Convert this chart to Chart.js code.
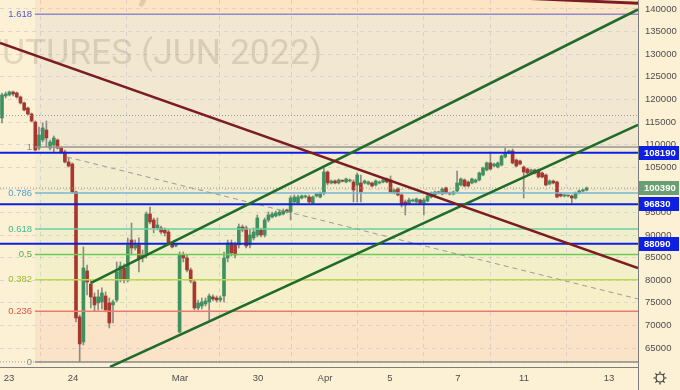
<!DOCTYPE html>
<html>
<head>
<meta charset="utf-8">
<script src="https://cdn.jsdelivr.net/npm/chart.js@4.4.1/dist/chart.umd.min.js"></script>
<style>
  html, body { margin: 0; padding: 0; background: #fdf1d5; }
  #wrap { width: 680px; height: 390px; position: relative; }
</style>
</head>
<body>
<div id="wrap"><canvas id="chart" width="680" height="390"></canvas></div>
<script>
// candles (4h-ish bars)
const opens = [115890,120760,120980,121640,121420,120530,119210,118100,116770,115000,109250,111020,113230,109250,109920,111020,109250,108370,106160,105710,
  99520,71870,66340,82050,79170,76300,74970,75190,76520,74970,74530,75630,80060,82710,80060,88900,87130,87800,85590,85590,
  94650,93330,91560,91560,91120,90670,88020,87580,68550,85590,84920,82270,79610,73860,74300,74750,75190,76300,76070,75630,
  76520,84920,88240,87800,87800,91780,91560,87800,89350,90010,91120,90010,93330,93990,94210,94430,94650,95540,95100,97310,
  97090,98190,98410,98410,97090,98640,98410,99300,103940,101510,101950,101510,101950,101730,101950,101730,101070,101510,101510,101290,
  101510,101070,101510,101730,102400,102180,99300,100180,98860,97310,96870,97530,97310,97750,97090,97530,98410,98860,99520,99080,
  100410,99300,99080,99740,101070,102180,101730,101510,101730,102180,103280,104390,105940,105270,105050,105490,107260,108150,108590,106600,
  106380,105050,104610,103720,104390,104390,103720,103280,101290,101950,101730,99080,98640,98640,98640,98190,99300,99740,99960];
const highs = [121420,121640,121860,121860,121640,120760,119430,118320,117000,115230,113900,114780,115230,111020,111910,111240,109470,108810,107040,105940,
  99740,72310,87350,83370,80060,77180,77840,78290,77400,76070,75630,84040,84040,83600,89350,92660,88900,89350,86690,95100,
  96200,93770,93770,92000,91560,91120,88460,88020,86250,86250,85590,82710,80060,75630,76070,76070,76960,76740,76520,76520,
  86250,88900,88900,88460,92440,92220,92000,91120,91560,94430,91560,93770,95100,95100,95320,95540,95760,95760,98640,98860,
  98860,98860,98860,98860,98640,99300,99520,104830,104170,102180,102180,102400,102180,102620,102400,102180,103720,103280,102180,101950,
  101730,102180,101950,102400,102620,103060,100180,100410,99080,97750,98190,97970,98190,97970,98190,98860,99520,99740,99740,100410,
  100630,99520,99740,104170,102620,102400,101950,102620,102400,103940,105050,106160,108370,105940,106160,107700,109250,108810,109030,106820,
  106600,105270,104830,104610,104610,104610,103940,103500,102180,102180,101950,99300,99080,98860,98860,99520,99960,100180,100630];
const lows = [114780,120310,120760,120760,120310,118990,117440,116550,115000,108590,108810,110580,109470,108810,108370,109030,108150,105940,105050,99300,
  70760,61920,65680,76740,73860,73200,73420,73640,72980,69440,70540,75190,79610,79390,79610,85590,86690,81820,84040,84920,
  92440,90450,91120,90230,89790,87800,87130,87350,68330,84040,81820,79390,73420,73420,73640,74300,71210,75410,75190,75190,
  75190,84040,85360,84920,87130,90670,87130,87130,88900,89570,89570,89570,92890,93770,93990,94210,94430,94880,93330,97090,
  96870,97970,98190,97090,96870,98410,98190,98860,101070,101290,101290,101290,101730,101510,101730,97310,97310,97310,101290,101070,
  100630,100850,101290,101510,101510,99300,99080,98640,96200,94430,96650,97310,97090,96870,94430,97310,98190,98640,99080,98860,
  99080,98860,98860,99520,100850,100630,100630,101290,101510,101950,103060,104170,104390,105050,104830,105270,107040,107930,105710,105050,
  105490,98190,103500,103500,103500,102620,102620,100850,101070,101290,98190,98410,98410,98410,97090,97970,99080,99520,99740];
const closes = [120980,121200,121640,121200,120530,119210,117660,116770,115230,108810,112130,113680,111470,110580,111470,109250,108370,106160,105270,99520,
  71650,65900,82710,79610,76300,74530,76300,77180,73420,70540,75190,81820,83150,80060,87800,87130,87800,84920,84920,94650,
  92890,91560,92220,90670,90450,88240,87350,87800,85590,84920,82270,79830,73860,74970,75190,75410,76520,75850,75630,76070,
  84920,88240,86030,85590,91780,91120,87580,90010,90670,93770,90010,93330,94430,94650,94880,95100,95320,95100,98190,98410,
  98410,98640,98640,97310,98410,99080,99300,103940,101510,101950,101510,102180,101900,102400,102180,99960,103280,99520,101950,101730,
  100850,101950,101730,102180,101730,99520,99960,98860,96650,96650,97750,97750,97970,97090,97750,98640,99300,99520,99300,100180,
  99300,99080,99520,101510,102400,100850,100850,102400,102180,103720,104830,105940,104610,105710,105940,107480,108150,108590,105940,105270,
  105710,103940,103720,104390,103720,102840,102840,101070,101950,101510,98410,98640,98860,98680,98190,99300,99740,99960,100390];

// axes
const yTicks = [65000,70000,75000,80000,85000,90000,95000,100000,105000,110000,115000,120000,125000,130000,135000,140000];
const xTickPos = [1.89, 19.19, 48.11, 69.19, 87.3, 104.86, 123.24, 141.08, 164.05];
const xTickLabels = ['23', '24', 'Mar', '30', 'Apr', '5', '7', '11', '13'];
const X_MIN = -0.54;
const X_MAX = 171.89;
const Y_MIN = 60800;
const Y_MAX = 141990;

// fibonacci retracement
const fibLevels = [0, 0.236, 0.382, 0.5, 0.618, 0.786, 1, 1.618];
const fibLabels = ['0', '0.236', '0.382', '0.5', '0.618', '0.786', '1', '1.618'];
const fibLow = 61920;
const fibHigh = 109470;
const fibStart = 8.9;
const fibLineColors = ['#8f8f8f', '#e97a6e', '#bcd65a', '#69cc59', '#66d1a4', '#77b7d9', '#9b978f', '#5b5bd6'];
const fibTextColors = ['#8a8a8a', '#df5448', '#9abb2c', '#4cb33c', '#3dbb8a', '#4a9fd0', '#8a8a8a', '#5656c8'];
const fibZoneColors = ['#fae3c6', '#f6efc7', '#f3efc8', '#f1efcb', '#f1eecd', '#f4ecce', '#f2e7d0', '#fde4c2'];

// horizontal levels
const blueLevels = [108190, 96830, 88090];
const lastPrice = 100390;
const highMark = 116430;

// drawn trend lines [x index, price]
const maroonMain = [[X_MIN, 132480], [X_MAX, 82710]];
const maroonTop = [[142.7, 142320], [X_MAX, 141250]];
const greenUpper = [[24.05, 79390], [X_MAX, 139890]];
const greenLower = [[29.19, 60810], [X_MAX, 114340]];
const greyDashed = [[17.57, 107260], [X_MAX, 75850]];

const GREEN = '#3f9160';
const RED = '#a8372f';
const WICK = '#8b8b86';
const BLUE = '#0d1fe3';
const MAROON = '#7b1c22';
const TREND_GREEN = '#1f6b2a';
const GRID = 'rgba(160,168,200,0.33)';
const AXIS = '#7d7d7d';
const TEXT = '#4d4d4d';
const FONT = "'Liberation Sans', Arial, sans-serif";

const idx = closes.map((_, i) => i);
const fibPrice = (lvl) => fibLow + lvl * (fibHigh - fibLow);

function lineSet(pts, color, width, dash, order) {
  return {
    type: 'line',
    data: pts.map(([x, y]) => ({ x, y })),
    borderColor: color,
    borderWidth: width,
    borderDash: dash || [],
    pointRadius: 0,
    fill: false,
    tension: 0,
    clip: 0,
    order: order ?? 1
  };
}

const horizontalSets = [
  lineSet([[X_MIN, fibLow], [X_MAX, fibLow]], '#9a9a9a', 1, [1, 2], 3),
  lineSet([[X_MIN, highMark], [X_MAX, highMark]], '#9a9a9a', 1, [1, 2], 3),
  lineSet([[X_MIN, lastPrice], [X_MAX, lastPrice]], '#8f9a7e', 1, [1, 2], 3),
  ...fibLevels.map((lvl, i) =>
    lineSet([[fibStart, fibPrice(lvl)], [X_MAX, fibPrice(lvl)]], fibLineColors[i], lvl === 1.618 ? 1 : 1.5, [], 2)
  ),
  ...blueLevels.map((v) => lineSet([[X_MIN, v], [X_MAX, v]], BLUE, 2, [], 1))
];

const trendSets = [
  lineSet(greyDashed, '#9b9b9b', 1, [5, 4], 1),
  lineSet(maroonMain, MAROON, 2.5, [], 0),
  lineSet(maroonTop, MAROON, 3, [], 0),
  lineSet(greenUpper, TREND_GREEN, 2.5, [], 0),
  lineSet(greenLower, TREND_GREEN, 2.5, [], 0)
];

const backgroundPlugin = {
  id: 'fibBackground',
  beforeDraw(chart) {
    const { ctx, chartArea, scales } = chart;
    ctx.save();
    ctx.fillStyle = '#fdf1d5';
    ctx.fillRect(0, 0, chart.width, chart.height);
    const x0 = scales.x.getPixelForValue(fibStart);
    const x1 = chartArea.right;
    fibLevels.forEach((lvl, i) => {
      const yA = scales.y.getPixelForValue(fibPrice(lvl));
      const yB = i < fibLevels.length - 1 ? scales.y.getPixelForValue(fibPrice(fibLevels[i + 1])) : chartArea.top;
      ctx.fillStyle = fibZoneColors[i];
      ctx.fillRect(x0, yB, x1 - x0, yA - yB);
    });
    ctx.restore();
  }
};

const watermarkPlugin = {
  id: 'watermark',
  beforeDatasetsDraw(chart) {
    const { ctx, chartArea } = chart;
    ctx.save();
    ctx.beginPath();
    ctx.rect(chartArea.left, chartArea.top, chartArea.width, chartArea.height);
    ctx.clip();
    ctx.fillStyle = 'rgba(130,112,90,0.22)';
    ctx.font = `38px Roboto, ${FONT}`;
    const size = 38 * 320 / ctx.measureText('UTURES (JUN 2022)').width;
    ctx.font = `${size}px Roboto, ${FONT}`;
    ctx.textAlign = 'right';
    ctx.textBaseline = 'alphabetic';
    ctx.fillText('RTS FUTURES (JUN 2022)', 322, 64);
    ctx.font = `64px Roboto, ${FONT}`;
    ctx.fillText('RIM2,', 150, -2);
    ctx.restore();
  }
};

const overlayPlugin = {
  id: 'overlay',
  afterDraw(chart) {
    const { ctx, chartArea, scales } = chart;
    ctx.save();
    // fib labels
    ctx.font = `9.5px ${FONT}`;
    ctx.textAlign = 'right';
    ctx.textBaseline = 'middle';
    fibLevels.forEach((lvl, i) => {
      ctx.fillStyle = fibTextColors[i];
      ctx.fillText(fibLabels[i], 32, scales.y.getPixelForValue(fibPrice(lvl)));
    });

    // axis lines
    ctx.strokeStyle = AXIS;
    ctx.lineWidth = 1;
    ctx.beginPath();
    ctx.moveTo(chartArea.right + 0.5, 0);
    ctx.lineTo(chartArea.right + 0.5, chart.height);
    ctx.moveTo(0, chartArea.bottom + 0.5);
    ctx.lineTo(chartArea.right, chartArea.bottom + 0.5);
    ctx.stroke();

    // price boxes on the right axis
    const tag = (value, color) => {
      const y = scales.y.getPixelForValue(value);
      ctx.fillStyle = color;
      ctx.fillRect(chartArea.right + 1, Math.round(y) - 7, 40, 14);
      ctx.fillStyle = '#ffffff';
      ctx.font = `bold 9.5px ${FONT}`;
      ctx.textAlign = 'left';
      ctx.fillText(String(value), chartArea.right + 6, y + 0.5);
    };
    blueLevels.forEach((v) => tag(v, BLUE));
    tag(lastPrice, '#6a9f74');

    // settings icon
    const cx = 660, cy = 378;
    ctx.strokeStyle = '#333333';
    ctx.lineWidth = 1.2;
    ctx.beginPath();
    ctx.arc(cx, cy, 4, 0, Math.PI * 2);
    ctx.stroke();
    ctx.beginPath();
    for (let k = 0; k < 8; k++) {
      const a = (k * Math.PI) / 4;
      ctx.moveTo(cx + Math.cos(a) * 4.5, cy + Math.sin(a) * 4.5);
      ctx.lineTo(cx + Math.cos(a) * 6.5, cy + Math.sin(a) * 6.5);
    }
    ctx.stroke();
    ctx.restore();
  }
};

const ctx = document.getElementById('chart');
new Chart(ctx, {
  type: 'bar',
  data: {
    datasets: [
      {
        type: 'bar',
        data: idx.map((i) => ({ x: i, y: [lows[i], highs[i]] })),
        backgroundColor: WICK,
        barThickness: 1,
        grouped: false,
        minBarLength: 1,
        order: 6
      },
      {
        type: 'bar',
        data: idx.map((i) => ({ x: i, y: [opens[i], closes[i]] })),
        backgroundColor: idx.map((i) => (closes[i] >= opens[i] ? GREEN : RED)),
        barThickness: 3,
        grouped: false,
        minBarLength: 1,
        order: 5
      },
      ...horizontalSets,
      ...trendSets
    ]
  },
  options: {
    responsive: false,
    animation: false,
    events: [],
    layout: { padding: 0 },
    plugins: { legend: { display: false }, tooltip: { enabled: false } },
    scales: {
      x: {
        type: 'linear',
        min: X_MIN,
        max: X_MAX,
        offset: false,
        border: { display: false, dash: [4, 4] },
        grid: {
          drawTicks: false,
          color: (c) => (c.index === 0 ? 'rgba(0,0,0,0)' : GRID)
        },
        ticks: {
          padding: 6,
          color: TEXT,
          font: { family: FONT, size: 9.5 },
          maxRotation: 0,
          autoSkip: false,
          callback: (v) => xTickLabels[xTickPos.indexOf(v)] ?? ''
        },
        afterBuildTicks: (s) => { s.ticks = xTickPos.map((v) => ({ value: v })); },
        afterFit: (s) => { s.height = 23; s.paddingLeft = 0; s.paddingRight = 0; }
      },
      y: {
        position: 'right',
        min: Y_MIN,
        max: Y_MAX,
        border: { display: false, dash: [4, 4] },
        grid: { drawTicks: false, color: GRID },
        ticks: {
          padding: 7,
          color: TEXT,
          font: { family: FONT, size: 9.5 },
          callback: (v) => String(v)
        },
        afterBuildTicks: (s) => { s.ticks = yTicks.map((v) => ({ value: v })); },
        afterFit: (s) => { s.width = 42; s.paddingTop = 0; s.paddingBottom = 0; }
      }
    }
  },
  plugins: [backgroundPlugin, watermarkPlugin, overlayPlugin]
});
</script>
</body>
</html>
